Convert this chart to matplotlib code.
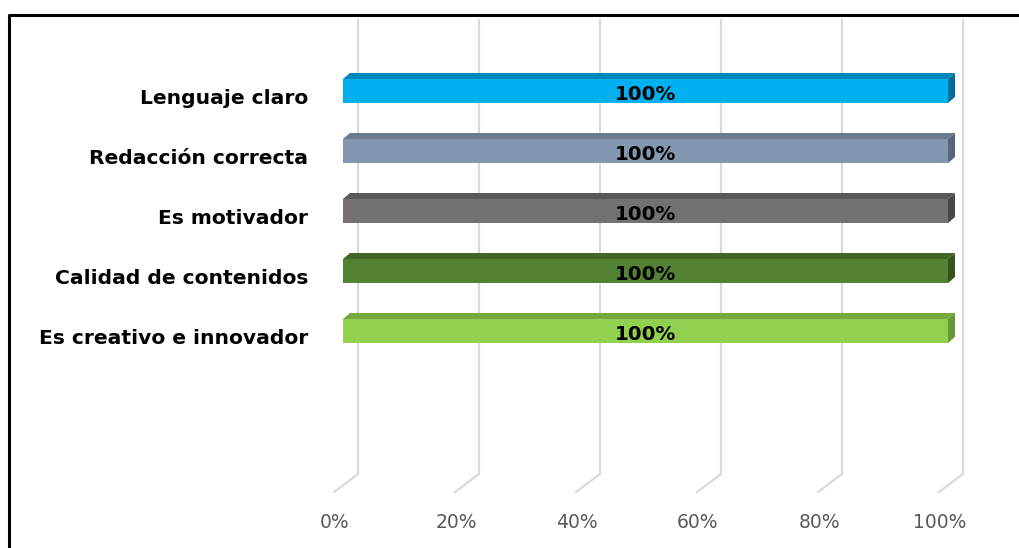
import matplotlib.pyplot as plt
from matplotlib.patches import Polygon
from matplotlib.lines import Line2D

categories = ['Lenguaje claro', 'Redacción correcta', 'Es motivador',
              'Calidad de contenidos', 'Es creativo e innovador']
values = [100, 100, 100, 100, 100]
tick_values = [0, 20, 40, 60, 80, 100]
tick_labels = ['0%', '20%', '40%', '60%', '80%', '100%']

front_colors = ['#00B0F0', '#8497B0', '#767171', '#548235', '#92D050']
top_colors = ['#0088BA', '#6B7B90', '#5C5858', '#416628', '#76A83E']
side_colors = ['#006F98', '#58667A', '#4A4747', '#35531F', '#6A9638']

plt.rcParams['font.family'] = ['DejaVu Sans']

W, H = 1019, 548
fig = plt.figure(figsize=(W / 100, H / 100), dpi=100)

# axes: x 0..100 -> px 343..948, category index 0 at px 91, spacing 60 px
x0, x1 = 343, 948
top_px, bot_px = 20, 492
ax = fig.add_axes([x0 / W, 1 - bot_px / H, (x1 - x0) / W, (bot_px - top_px) / H])
y_top = (top_px - 91) / 60
y_bot = (bot_px - 91) / 60
ax.set_xlim(0, 100)
ax.set_ylim(y_bot, y_top)
ax.axis('off')

px = 100 / (x1 - x0)      # data units per pixel in x
py = 1 / 60               # data units per pixel in y

# back wall gridlines with a slanted floor segment
back_dx = 15 * px
floor_y = (474 - 91) / 60
for t in tick_values:
    xb = t + back_dx
    xf = t - 9 * px
    ax.add_line(Line2D([xb, xb, xf], [y_top, floor_y, y_bot],
                       color='#D9D9D9', lw=1.6, zorder=1, clip_on=False))

# 3D bars
bh = 0.4
ddx, ddy = 7 * px, 6 * py
for i, v in enumerate(values):
    ax.barh(i, v, height=bh, color=front_colors[i], zorder=3)
    yt, yb = i - bh / 2, i + bh / 2
    ax.add_patch(Polygon([(0, yt), (v, yt), (v + ddx, yt - ddy), (ddx, yt - ddy)],
                         closed=True, color=top_colors[i], zorder=3, lw=0,
                         clip_on=False))
    ax.add_patch(Polygon([(v, yt), (v, yb), (v + ddx, yb - ddy), (v + ddx, yt - ddy)],
                         closed=True, color=side_colors[i], zorder=3, lw=0,
                         clip_on=False))
    ax.text(v / 2, i + 3 * py, f'{v}%', ha='center', va='center',
            fontsize=14.2, fontweight='bold', color='black', zorder=4)
    ax.text(-35 * px, i + 7 * py, categories[i], ha='right', va='center',
            fontsize=14.6, fontweight='bold', color='black', clip_on=False)

for t, lab in zip(tick_values, tick_labels):
    ax.text(t - 8 * px, (522 - 91) / 60, lab, ha='center', va='center',
            fontsize=13.5, color='#595959', clip_on=False)

# outer frame (clipped at right and bottom)
fig.add_artist(Line2D([9 / W, 9 / W, 1], [0, 1 - 15 / H, 1 - 15 / H],
                      transform=fig.transFigure, color='black', lw=2.2))

fig.savefig('out.png', dpi=100)
